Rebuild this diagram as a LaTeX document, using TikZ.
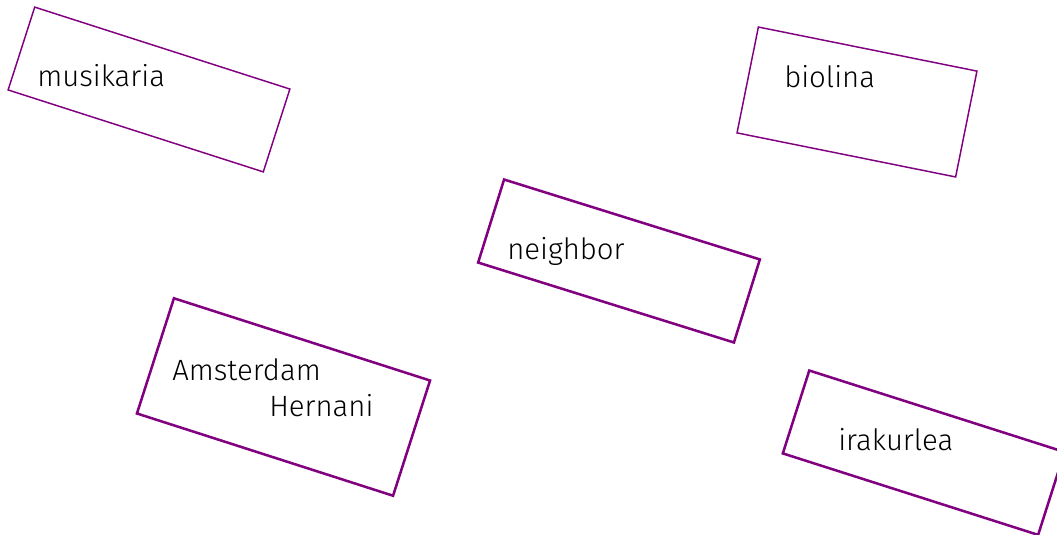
\documentclass[tikz,border=0pt]{standalone}
\usepackage{fontspec}
\setmainfont{Fira Sans Light}
\definecolor{boxpurple}{HTML}{800080}
\begin{document}
\begin{tikzpicture}[x=0.75pt,y=-0.75pt,
  card/.style={draw=boxpurple,line width=#1,minimum width=0pt,minimum height=0pt,inner sep=0pt,line join=miter},
  card/.default=1.1pt,
  word/.style={anchor=base west,inner sep=0pt,font=\fontsize{22}{27}\selectfont,text=black}]
\useasboundingbox (0,0) rectangle (1057,535);
\clip (0,0) rectangle (1057,535);
\node[card=1.1pt,minimum width=201pt,minimum height=65.25pt,rotate=-17.8] (b1) at (149,89.5) {};
\node[card=1.1pt,minimum width=167.25pt,minimum height=81pt,rotate=-11.4] (b2) at (857,102) {};
\node[card=1.9pt,minimum width=201pt,minimum height=65.25pt,rotate=-17.35] (b3) at (619,261) {};
\node[card=1.9pt,minimum width=201.75pt,minimum height=90.75pt,rotate=-17.8] (b4) at (283.5,397) {};
\node[card=1.9pt,minimum width=201pt,minimum height=65.25pt,rotate=-17.7] (b5) at (923.7,452.7) {};
\node[word] (t1) at (37,87) {musikaria};
\node[word] (t2) at (784,88) {biolina};
\node[word] (t3) at (507,259) {neighbor};
\node[word] (t4) at (172,380) {Amsterdam};
\node[word] (t5) at (269,416) {Hernani};
\node[word] (t6) at (838,450) {irakurlea};
\end{tikzpicture}
\end{document}
